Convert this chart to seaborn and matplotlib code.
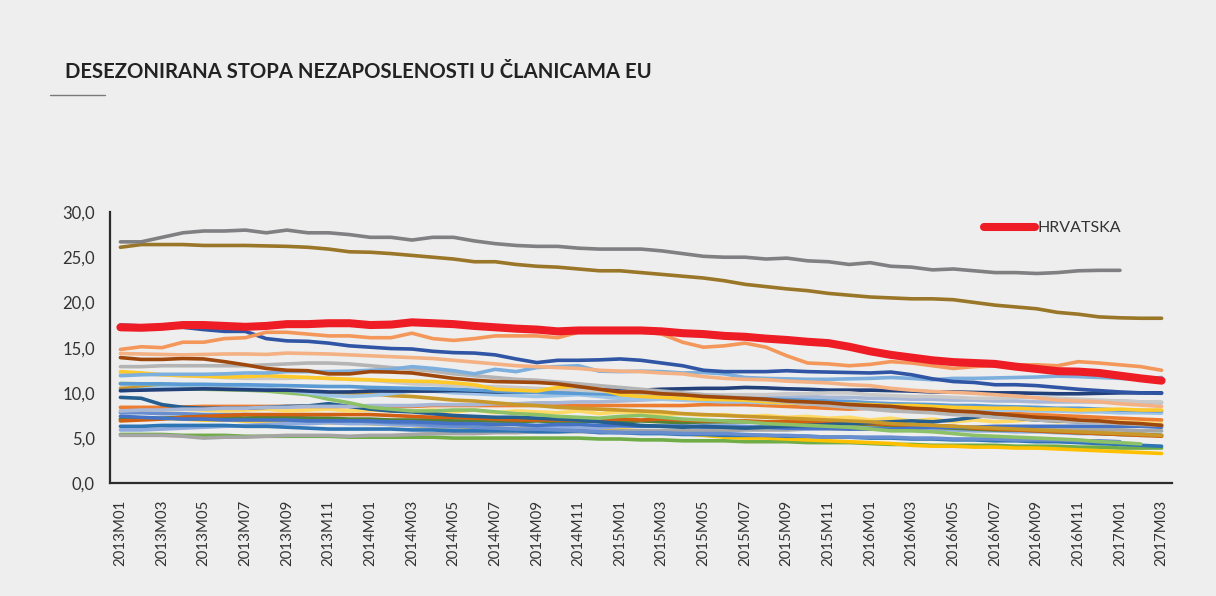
import numpy as np
import pandas as pd
import matplotlib
matplotlib.use("Agg")
import matplotlib.pyplot as plt
from matplotlib.lines import Line2D
from matplotlib.ticker import FuncFormatter, FixedLocator
import seaborn as sns

# ---------------- data ----------------
months = [f"{y}M{m:02d}" for y in range(2013, 2018) for m in range(1, 13)][:51]

greece = [26.7, 26.7, 27.2, 27.7, 27.9, 27.9, 28.0, 27.7, 28.0, 27.7,
          27.7, 27.5, 27.2, 27.2, 26.9, 27.2, 27.2, 26.8, 26.5, 26.3,
          26.2, 26.2, 26.0, 25.9, 25.9, 25.9, 25.7, 25.4, 25.1, 25.0,
          25.0, 24.8, 24.9, 24.6, 24.5, 24.2, 24.4, 24.0, 23.9, 23.6,
          23.7, 23.5, 23.3, 23.3, 23.2, 23.3, 23.5, 23.55, 23.55]
spain = [26.1, 26.4, 26.4, 26.4, 26.3, 26.3, 26.3, 26.25, 26.2, 26.1,
         25.9, 25.6, 25.55, 25.4, 25.2, 25.0, 24.8, 24.5, 24.5, 24.2,
         24.0, 23.9, 23.7, 23.5, 23.5, 23.3, 23.1, 22.9, 22.7, 22.4,
         22.0, 21.75, 21.5, 21.3, 21.0, 20.8, 20.6, 20.5, 20.4, 20.4,
         20.3, 20.0, 19.7, 19.5, 19.3, 18.9, 18.7, 18.4, 18.3, 18.25,
         18.25]
croatia = [17.25, 17.2, 17.3, 17.5, 17.5, 17.4, 17.3, 17.4, 17.6, 17.6,
           17.7, 17.7, 17.5, 17.55, 17.8, 17.7, 17.6, 17.4, 17.25, 17.1,
           17.0, 16.8, 16.9, 16.9, 16.9, 16.9, 16.8, 16.6, 16.5, 16.3,
           16.2, 16.0, 15.85, 15.65, 15.5, 15.1, 14.6, 14.2, 13.9, 13.6,
           13.4, 13.3, 13.2, 12.9, 12.65, 12.4, 12.35, 12.2, 11.9, 11.6,
           11.35]
cyprus = [14.8, 15.1, 15.0, 15.6, 15.6, 16.0, 16.1, 16.7, 16.7, 16.5,
          16.3, 16.3, 16.1, 16.1, 16.6, 16.0, 15.8, 16.0, 16.3, 16.3,
          16.3, 16.1, 16.7, 16.7, 16.85, 16.8, 16.5, 15.6, 15.05, 15.2,
          15.5, 15.05, 14.1, 13.3, 13.2, 13.0, 13.15, 13.45, 13.3, 13.0,
          12.7, 12.9, 13.05, 13.1, 13.1, 13.0, 13.45, 13.3, 13.1, 12.9,
          12.5]
portugal = [17.5, 17.4, 17.3, 17.25, 17.0, 16.8, 16.8, 16.0, 15.75, 15.7,
            15.5, 15.2, 15.05, 14.9, 14.85, 14.6, 14.45, 14.4, 14.2, 13.75,
            13.35, 13.6, 13.6, 13.65, 13.75, 13.6, 13.3, 13.0, 12.5, 12.35,
            12.35, 12.35, 12.45, 12.35, 12.3, 12.25, 12.2, 12.3, 12.0, 11.55,
            11.25, 11.15, 10.9, 10.9, 10.8, 10.6, 10.4, 10.25, 10.1, 10.0,
            9.95]
slovakia = [14.35, 14.3, 14.25, 14.2, 14.25, 14.3, 14.3, 14.25, 14.4, 14.35,
            14.3, 14.2, 14.1, 14.0, 13.9, 13.8, 13.6, 13.4, 13.2, 13.0,
            12.9, 12.8, 12.7, 12.5, 12.4, 12.35, 12.2, 12.1, 11.8, 11.6,
            11.5, 11.45, 11.3, 11.2, 11.1, 10.9, 10.8, 10.5, 10.3, 10.15,
            10.05, 9.95, 9.8, 9.65, 9.45, 9.2, 9.1, 9.0, 8.8, 8.65,
            8.5]
italy = [11.9, 12.0, 12.05, 12.05, 12.05, 12.1, 12.2, 12.2, 12.35, 12.35,
         12.35, 12.4, 12.5, 12.6, 12.9, 12.7, 12.45, 12.1, 12.6, 12.35,
         12.8, 12.9, 13.0, 12.4, 12.35, 12.4, 12.35, 12.2, 12.25, 12.1,
         11.7, 11.6, 11.55, 11.5, 11.5, 11.55, 11.6, 11.7, 11.6, 11.45,
         11.6, 11.6, 11.65, 11.7, 11.75, 11.85, 11.8, 11.7, 11.6, 11.5,
         11.7]
ireland = [13.9, 13.7, 13.7, 13.8, 13.75, 13.45, 13.1, 12.7, 12.5, 12.45,
           12.1, 12.1, 12.35, 12.3, 12.2, 11.9, 11.6, 11.4, 11.25, 11.2,
           11.15, 11.0, 10.7, 10.4, 10.1, 10.1, 9.9, 9.8, 9.6, 9.5,
           9.4, 9.3, 9.1, 9.0, 8.9, 8.7, 8.6, 8.5, 8.3, 8.2,
           8.0, 7.9, 7.7, 7.5, 7.3, 7.2, 7.0, 6.9, 6.7, 6.6,
           6.4]
bulgaria = [12.9, 12.9, 13.0, 13.0, 13.0, 13.0, 13.0, 13.1, 13.2, 13.3,
            13.3, 13.2, 13.0, 12.8, 12.6, 12.4, 12.1, 11.9, 11.7, 11.5,
            11.4, 11.2, 11.0, 10.8, 10.6, 10.4, 10.2, 10.0, 9.8, 9.6,
            9.4, 9.2, 9.0, 8.8, 8.6, 8.4, 8.2, 8.0, 7.9, 7.8,
            7.6, 7.5, 7.3, 7.2, 7.0, 6.9, 6.8, 6.7, 6.6, 6.5,
            6.4]
lithuania = [12.35, 12.2, 12.0, 11.9, 11.85, 11.75, 11.8, 11.9, 11.8, 11.7,
             11.6, 11.5, 11.45, 11.35, 11.3, 11.25, 11.1, 10.9, 10.4, 10.3,
             10.2, 10.6, 10.75, 10.4, 9.8, 9.6, 9.5, 9.4, 9.3, 9.25,
             9.2, 9.0, 8.9, 8.85, 8.8, 8.75, 8.7, 8.6, 8.6, 8.5,
             8.4, 8.35, 8.3, 8.3, 8.2, 8.2, 8.1, 8.15, 8.2, 8.1,
             8.1]
hungary = [11.05, 11.0, 10.95, 10.45, 10.4, 10.35, 10.3, 10.2, 10.0, 9.8,
           9.3, 8.9, 8.4, 8.2, 8.0, 8.0, 8.1, 8.1, 7.9, 7.7,
           7.6, 7.4, 7.3, 7.2, 7.4, 7.5, 7.3, 7.1, 7.0, 6.9,
           6.8, 6.6, 6.5, 6.4, 6.3, 6.2, 6.0, 5.8, 5.8, 5.7,
           5.5, 5.3, 5.2, 5.1, 5.0, 4.9, 4.8, 4.6, 4.5, 4.35]
france = [10.25, 10.3, 10.35, 10.4, 10.45, 10.4, 10.35, 10.3, 10.3, 10.2,
          10.1, 10.1, 10.2, 10.2, 10.2, 10.2, 10.25, 10.2, 10.1, 10.1,
          10.1, 10.2, 10.3, 10.3, 10.3, 10.3, 10.4, 10.45, 10.5, 10.5,
          10.6, 10.55, 10.45, 10.4, 10.3, 10.3, 10.3, 10.25, 10.2, 10.1,
          10.1, 10.05, 10.0, 10.0, 9.95, 9.9, 9.9, 9.95, 10.0, 10.0,
          10.0]
slovenia = [10.2, 10.4, 10.6, 10.8, 10.85, 10.8, 10.7, 10.5, 10.3, 10.0,
            9.7, 9.6, 9.7, 9.9, 10.2, 10.2, 10.0, 9.9, 9.8, 9.7,
            9.6, 9.7, 9.8, 9.6, 9.4, 9.3, 9.3, 9.2, 9.1, 9.0,
            9.0, 8.9, 8.9, 8.8, 8.7, 8.6, 8.5, 8.4, 8.4, 8.3,
            8.2, 8.2, 8.1, 8.1, 8.0, 8.0, 7.9, 7.9, 7.8, 7.8,
            7.75]
eu28 = [11.0, 11.0, 11.0, 10.95, 10.95, 10.9, 10.9, 10.85, 10.8, 10.75,
        10.7, 10.7, 10.6, 10.55, 10.5, 10.45, 10.4, 10.3, 10.2, 10.1,
        10.05, 10.0, 9.95, 9.9, 9.8, 9.75, 9.7, 9.6, 9.5, 9.45,
        9.4, 9.3, 9.25, 9.2, 9.1, 9.05, 8.9, 8.8, 8.75, 8.7,
        8.6, 8.6, 8.5, 8.45, 8.4, 8.3, 8.3, 8.2, 8.1, 8.05,
        8.0]
poland = [10.5, 10.6, 10.6, 10.6, 10.5, 10.4, 10.4, 10.3, 10.2, 10.1,
          10.0, 10.0, 9.9, 9.7, 9.6, 9.4, 9.2, 9.1, 8.9, 8.7,
          8.6, 8.4, 8.3, 8.2, 8.1, 8.0, 7.9, 7.7, 7.6, 7.5,
          7.4, 7.3, 7.2, 7.1, 7.0, 6.9, 6.8, 6.6, 6.5, 6.4,
          6.3, 6.2, 6.1, 6.0, 5.9, 5.8, 5.7, 5.6, 5.5, 5.4,
          5.3]
estonia = [9.5, 9.4, 8.7, 8.4, 8.3, 8.3, 8.3, 8.4, 8.5, 8.55,
           8.8, 8.5, 8.2, 8.0, 7.9, 7.7, 7.5, 7.4, 7.3, 7.3,
           7.2, 7.1, 7.0, 6.8, 6.6, 6.4, 6.3, 6.2, 6.3, 6.2,
           6.1, 6.2, 6.3, 6.4, 6.5, 6.6, 6.7, 6.8, 6.9, 6.8,
           7.0, 7.3, 7.6, 7.2, 7.0, 6.9, 6.8, 6.8, 6.6, 6.5,
           6.4]
belgium = [8.4, 8.4, 8.4, 8.45, 8.5, 8.5, 8.5, 8.5, 8.5, 8.5,
           8.5, 8.5, 8.5, 8.5, 8.5, 8.6, 8.6, 8.6, 8.6, 8.6,
           8.6, 8.6, 8.6, 8.6, 8.6, 8.6, 8.6, 8.6, 8.7, 8.7,
           8.7, 8.6, 8.5, 8.4, 8.3, 8.2, 8.3, 8.3, 8.2, 8.0,
           7.9, 7.8, 7.7, 7.7, 7.6, 7.5, 7.4, 7.3, 7.2, 7.1,
           7.0]
sweden = [8.1, 8.2, 8.1, 8.2, 8.1, 8.0, 8.1, 8.2, 8.0, 8.1,
          8.2, 8.0, 8.1, 8.0, 8.0, 8.1, 7.9, 8.1, 7.8, 8.0,
          7.9, 7.8, 8.0, 7.7, 7.9, 7.8, 7.6, 7.7, 7.5, 7.6,
          7.4, 7.5, 7.3, 7.4, 7.2, 7.3, 7.0, 7.2, 6.9, 7.1,
          6.8, 7.0, 6.8, 6.9, 7.1, 6.8, 6.9, 6.9, 6.8, 6.7,
          6.6]
finland = [8.0, 8.1, 8.1, 8.2, 8.2, 8.3, 8.3, 8.4, 8.4, 8.5,
           8.5, 8.5, 8.6, 8.6, 8.6, 8.7, 8.7, 8.7, 8.8, 8.8,
           8.9, 8.9, 9.0, 9.0, 9.1, 9.2, 9.3, 9.3, 9.4, 9.4,
           9.5, 9.5, 9.5, 9.6, 9.5, 9.5, 9.4, 9.4, 9.3, 9.3,
           9.2, 9.2, 9.1, 9.1, 9.0, 9.0, 9.0, 9.0, 9.1, 9.0,
           8.9]
latvia = [12.2, 12.1, 12.0, 11.9, 11.8, 11.7, 11.6, 11.6, 11.6, 11.7,
          11.6, 11.5, 11.4, 11.2, 11.0, 10.9, 10.8, 10.7, 10.7, 10.6,
          10.5, 10.4, 10.3, 10.2, 10.1, 10.0, 9.9, 9.9, 9.8, 9.8,
          9.8, 9.8, 9.9, 9.9, 10.0, 10.0, 9.8, 9.7, 9.6, 9.6,
          9.5, 9.4, 9.4, 9.5, 9.5, 9.4, 9.3, 9.2, 9.1, 9.0,
          9.0]
denmark = [7.4, 7.3, 7.2, 7.1, 7.1, 7.0, 7.0, 7.0, 7.0, 6.9,
           6.9, 6.9, 6.9, 6.8, 6.8, 6.7, 6.6, 6.6, 6.5, 6.5,
           6.4, 6.5, 6.5, 6.4, 6.4, 6.3, 6.3, 6.3, 6.2, 6.2,
           6.2, 6.2, 6.1, 6.1, 6.1, 6.0, 6.0, 6.0, 6.1, 6.2,
           6.2, 6.2, 6.3, 6.3, 6.3, 6.3, 6.3, 6.3, 6.3, 6.3,
           6.2]
netherlands = [6.9, 7.0, 7.1, 7.3, 7.4, 7.5, 7.6, 7.6, 7.6, 7.6,
               7.6, 7.6, 7.6, 7.5, 7.4, 7.3, 7.3, 7.2, 7.1, 7.0,
               7.0, 7.0, 7.0, 7.0, 7.1, 7.0, 7.1, 7.0, 6.9, 6.9,
               6.9, 6.8, 6.8, 6.8, 6.8, 6.7, 6.6, 6.5, 6.4, 6.4,
               6.3, 6.1, 6.0, 5.9, 5.8, 5.7, 5.6, 5.5, 5.4, 5.3,
               5.2]
romania = [7.1, 7.1, 7.2, 7.3, 7.4, 7.3, 7.2, 7.3, 7.3, 7.2,
           7.2, 7.1, 7.1, 7.0, 7.0, 7.0, 6.9, 6.9, 6.9, 6.8,
           6.9, 6.8, 6.8, 6.9, 6.8, 6.9, 6.8, 6.7, 6.8, 6.8,
           6.8, 6.8, 6.7, 6.7, 6.7, 6.6, 6.5, 6.4, 6.3, 6.2,
           6.1, 6.0, 5.9, 5.9, 5.8, 5.7, 5.6, 5.5, 5.4, 5.4,
           5.3]
austria = [5.3, 5.3, 5.3, 5.2, 5.0, 5.1, 5.1, 5.2, 5.3, 5.3,
           5.3, 5.2, 5.3, 5.3, 5.4, 5.5, 5.5, 5.5, 5.6, 5.6,
           5.7, 5.7, 5.7, 5.7, 5.8, 5.8, 5.8, 5.8, 5.8, 5.8,
           5.9, 5.9, 5.9, 6.0, 6.0, 6.0, 6.0, 6.1, 6.0, 6.0,
           6.0, 6.1, 6.0, 6.0, 5.9, 5.9, 5.9, 5.9, 5.9, 5.8,
           5.8]
malta = [6.3, 6.3, 6.4, 6.4, 6.4, 6.4, 6.3, 6.3, 6.2, 6.1,
         6.0, 6.0, 6.0, 6.0, 5.9, 5.9, 5.8, 5.8, 5.8, 5.8,
         5.7, 5.7, 5.8, 5.6, 5.6, 5.5, 5.5, 5.4, 5.4, 5.3,
         5.3, 5.3, 5.2, 5.2, 5.1, 5.1, 5.0, 5.0, 4.9, 4.9,
         4.8, 4.8, 4.7, 4.7, 4.6, 4.6, 4.5, 4.4, 4.3, 4.2,
         4.1]
luxembourg = [5.9, 5.9, 6.0, 6.1, 6.2, 6.3, 6.4, 6.5, 6.6, 6.6,
              6.7, 6.6, 6.6, 6.5, 6.4, 6.3, 6.2, 6.4, 6.6, 6.5,
              6.3, 6.2, 6.1, 6.1, 6.3, 6.3, 6.4, 6.5, 6.5, 6.4,
              6.3, 6.2, 6.1, 6.0, 6.0, 6.1, 6.2, 6.2, 6.1, 6.0,
              5.9, 5.8, 5.8, 5.7, 5.7, 5.6, 5.5, 5.5, 5.4, 5.3,
              5.3]
uk = [7.8, 7.8, 7.7, 7.7, 7.6, 7.6, 7.6, 7.5, 7.3, 7.2,
      7.1, 7.0, 6.8, 6.7, 6.6, 6.4, 6.3, 6.2, 6.1, 6.0,
      6.0, 5.9, 5.8, 5.7, 5.6, 5.6, 5.6, 5.5, 5.5, 5.5,
      5.4, 5.3, 5.3, 5.2, 5.1, 5.1, 5.1, 5.1, 5.0, 5.0,
      4.9, 4.9, 4.9, 4.8, 4.8, 4.8, 4.7, 4.7, 4.6]
czech = [7.0, 7.1, 7.2, 7.1, 7.0, 7.0, 6.9, 6.9, 6.9, 6.8,
         6.7, 6.7, 6.6, 6.5, 6.4, 6.2, 6.2, 6.2, 6.1, 6.0,
         6.0, 5.9, 5.8, 5.8, 5.9, 5.8, 5.7, 5.5, 5.3, 5.1,
         5.0, 5.0, 4.9, 4.8, 4.7, 4.6, 4.5, 4.4, 4.2, 4.1,
         4.1, 4.0, 4.0, 3.9, 3.9, 3.8, 3.7, 3.6, 3.5, 3.4,
         3.3]
germany = [5.4, 5.4, 5.4, 5.3, 5.3, 5.3, 5.2, 5.2, 5.2, 5.2,
           5.2, 5.1, 5.1, 5.1, 5.1, 5.1, 5.0, 5.0, 5.0, 5.0,
           5.0, 5.0, 5.0, 4.9, 4.9, 4.8, 4.8, 4.7, 4.7, 4.7,
           4.6, 4.6, 4.6, 4.5, 4.5, 4.5, 4.4, 4.3, 4.3, 4.2,
           4.2, 4.2, 4.2, 4.1, 4.1, 4.1, 4.0, 4.0, 3.9, 3.9,
           3.9]

others = {
    "Germany": germany, "Czech": czech, "Austria": austria, "Luxembourg": luxembourg,
    "Malta": malta, "UK": uk, "Romania": romania, "Netherlands": netherlands,
    "Denmark": denmark, "Sweden": sweden, "Belgium": belgium, "Estonia": estonia,
    "Finland": finland, "Poland": poland, "Hungary": hungary, "Slovenia": slovenia,
    "France": france, "EU28": eu28, "Latvia": latvia, "Lithuania": lithuania,
    "Bulgaria": bulgaria, "Italy": italy, "Ireland": ireland, "Slovakia": slovakia,
    "Portugal": portugal, "Cyprus": cyprus, "Spain": spain, "Greece": greece,
}
colors = {
    "Greece": "#808083", "Spain": "#9A7628", "Cyprus": "#F4975A", "Portugal": "#2F55A4",
    "Slovakia": "#F4B183", "Italy": "#7CAFDD", "Ireland": "#9E480E", "Bulgaria": "#B4B4B4",
    "Lithuania": "#FFC929", "Hungary": "#8CC168", "France": "#22407A", "Slovenia": "#9DC3E6",
    "EU28": "#5B9BD5", "Poland": "#C9982A", "Estonia": "#255E91", "Belgium": "#ED7D31",
    "Sweden": "#FFD966", "Finland": "#A9B7D6", "Latvia": "#C9C9C9", "Denmark": "#4472C4",
    "Netherlands": "#D26012", "Romania": "#548235", "Austria": "#A5A5A5", "Malta": "#2E75B6",
    "Luxembourg": "#8FAADC", "UK": "#698ED0", "Czech": "#FFC000", "Germany": "#70AD47",
}

rows = []
for name, vals in others.items():
    for i, v in enumerate(vals):
        rows.append((name, i, v))
df = pd.DataFrame(rows, columns=["country", "idx", "value"])
df_hr = pd.DataFrame({"idx": range(len(croatia)), "value": croatia})

# ---------------- figure ----------------
BG = "#EEEEEE"
sns.set_style("white", {"axes.facecolor": BG, "figure.facecolor": BG})
plt.rcParams["font.family"] = ["Lato", "DejaVu Sans"]

fig = plt.figure(figsize=(12.16, 5.96), dpi=100)
fig.patch.set_facecolor(BG)
ax = fig.add_axes([110 / 1216, 1 - 483.3 / 596, 1062 / 1216, 271.3 / 596])
ax.set_facecolor(BG)

sns.lineplot(data=df, x="idx", y="value", hue="country", hue_order=list(others.keys()),
             palette=colors, linewidth=2.6, legend=False, ax=ax, estimator=None,
             sort=False)
sns.lineplot(data=df_hr, x="idx", y="value", color="#EE1C25", linewidth=5.8,
             ax=ax, label="HRVATSKA", solid_capstyle="round", estimator=None, sort=False)

ax.set_xlim(-0.5, 50.5)
ax.set_ylim(0, 30)
ax.set_xlabel("")
ax.set_ylabel("")

ax.xaxis.set_major_locator(FixedLocator(list(range(0, 51, 2))))
ax.set_xticklabels([months[i] for i in range(0, 51, 2)], rotation=90,
                   fontsize=10.8, color="#333333")
ax.set_yticks([0, 5, 10, 15, 20, 25, 30])
ax.yaxis.set_major_formatter(FuncFormatter(lambda v, p: f"{v:.1f}".replace(".", ",")))
ax.tick_params(axis="y", length=0, pad=11, labelsize=12, labelcolor="#333333")
ax.tick_params(axis="x", length=0, pad=12)

for s in ["top", "right"]:
    ax.spines[s].set_visible(False)
for s in ["left", "bottom"]:
    ax.spines[s].set_color("#2b2b2b")
    ax.spines[s].set_linewidth(1.6)

leg = ax.legend(loc="center left", bbox_to_anchor=(0.823, 0.941), frameon=False,
                handlelength=3.2, handletextpad=0.15, fontsize=11.5, borderpad=0,
                borderaxespad=0)
for t in leg.get_texts():
    t.set_color("#333333")

fig.text(65 / 1216, 1 - 72 / 596, "DESEZONIRANA STOPA NEZAPOSLENOSTI U ČLANICAMA EU",
         fontsize=14.6, fontweight="bold", color="#222222", va="center", ha="left")
fig.add_artist(Line2D([50 / 1216, 105 / 1216], [1 - 95 / 596, 1 - 95 / 596],
                      color="#7a7a7a", linewidth=1.0))

fig.savefig("out.png", dpi=100, facecolor=BG)
